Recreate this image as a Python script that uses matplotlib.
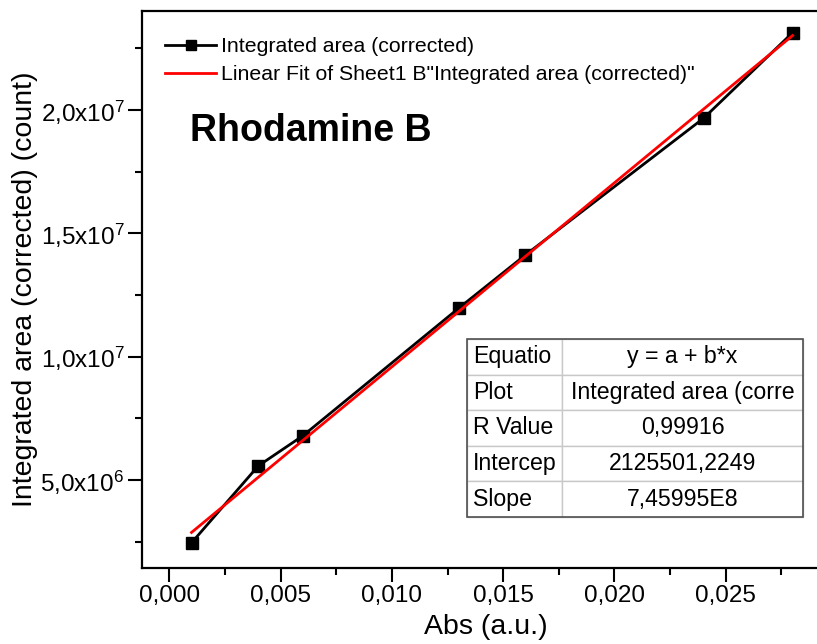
import matplotlib
matplotlib.use('Agg')
import matplotlib.pyplot as plt
import numpy as np
from matplotlib.ticker import MultipleLocator, FuncFormatter
from matplotlib.patches import Rectangle

plt.rcParams['font.family'] = ['Liberation Sans', 'DejaVu Sans']
plt.rcParams['mathtext.fontset'] = 'custom'
plt.rcParams['mathtext.rm'] = 'Liberation Sans'
plt.rcParams['mathtext.it'] = 'Liberation Sans:italic'

# data
absorbance = [0.001, 0.004, 0.006, 0.013, 0.016, 0.024, 0.028]
area = [2.45e6, 5.57e6, 6.79e6, 11.96e6, 14.12e6, 19.66e6, 23.13e6]

# fit parameters, as shown in the table
intercept = 2125501.2249
slope = 7.45995e8

table_keys = ['Equatio', 'Plot', 'R Value', 'Intercep', 'Slope']
table_vals = ['y = a + b*x', 'Integrated area (corre', '0,99916',
              '2125501,2249', '7,45995E8']

fig = plt.figure(figsize=(8.17, 6.44), dpi=100)
# right edge of the axes lies past the figure edge (cropped like the original)
ax = fig.add_axes([0.1742, 0.118, 0.8417, 0.865])

ax.plot(absorbance, area, color='black', lw=2, marker='s', ms=8.5,
        label='Integrated area (corrected)', zorder=3)
xfit = np.array([min(absorbance), max(absorbance)])
ax.plot(xfit, intercept + slope * xfit, color='red', lw=2,
        label='Linear Fit of Sheet1 B"Integrated area (corrected)"', zorder=4)

ax.set_xlim(-0.00121, 0.02968)
ax.set_ylim(1.43e6, 24.01e6)

ax.xaxis.set_major_locator(MultipleLocator(0.005))
ax.xaxis.set_minor_locator(MultipleLocator(0.0025))
ax.yaxis.set_major_locator(MultipleLocator(5e6))
ax.yaxis.set_minor_locator(MultipleLocator(2.5e6))

ax.xaxis.set_major_formatter(FuncFormatter(lambda v, p: f'{v:.3f}'.replace('.', ',')))


def sci(v, p):
    if v == 0:
        return '0'
    e = int(np.floor(np.log10(abs(v))))
    m = v / 10**e
    return f'{m:.1f}'.replace('.', ',') + r'x10$^{%d}$' % e


ax.yaxis.set_major_formatter(FuncFormatter(sci))

ax.tick_params(which='both', direction='out', width=1.5, labelsize=17.5,
               top=False, right=False)
ax.tick_params(which='major', length=10, pad=3)
ax.tick_params(axis='x', which='major', pad=2)
ax.tick_params(which='minor', length=5)
for s in ax.spines.values():
    s.set_linewidth(1.6)

ax.set_xlabel('Abs (a.u.)', fontsize=20.5, labelpad=5)
ax.set_ylabel('Integrated area (corrected) (count)', fontsize=20.5)
ax.yaxis.set_label_coords(-0.152, 0.5)

ax.legend(loc='upper left', bbox_to_anchor=(0.033, 0.953), frameon=False,
          fontsize=15.3, handlelength=2.4, handletextpad=0.25, labelspacing=0.42,
          borderpad=0, borderaxespad=0, markerscale=0.8)

ax.text(0.0694, 0.785, 'Rhodamine B', transform=ax.transAxes, fontsize=27,
        fontweight='bold', va='center', ha='left')

# fit results table
tb = ax.table(cellText=[[k, v] for k, v in zip(table_keys, table_vals)],
              colWidths=[0.283, 0.717], bbox=[0.4722, 0.0916, 0.4885, 0.3196],
              zorder=5)
tb.auto_set_font_size(False)
for (r, c), cell in tb.get_celld().items():
    cell.set_edgecolor('#c8c8c8')
    cell.set_linewidth(1)
    cell.set_facecolor('white')
    cell.get_text().set_fontsize(16.7)
    if c == 0:
        cell.get_text().set_ha('left')
        cell.PAD = 0.06
    else:
        cell.get_text().set_ha('center')
ax.add_patch(Rectangle((0.4722, 0.0916), 0.4885, 0.3196, transform=ax.transAxes,
                       fill=False, edgecolor='#505050', lw=1.2, zorder=6))

fig.savefig('out.png', dpi=100)
